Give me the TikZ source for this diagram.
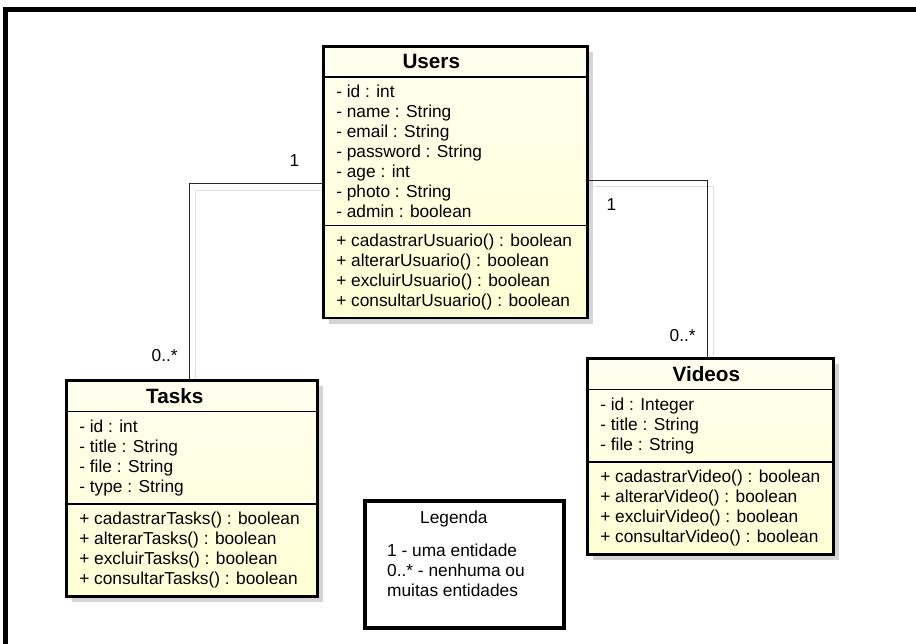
\documentclass[tikz,border=0pt]{standalone}
\usepackage{fontspec}
\setmainfont{Liberation Sans}
\usetikzlibrary{shapes.multipart,shadows,backgrounds}

\definecolor{classtop}{RGB}{255,255,240}
\definecolor{classbottom}{RGB}{255,255,212}
\newcommand{\classtitle}{\fontsize{20.7}{24}\selectfont\bfseries}
\newcommand{\umlfont}{\fontsize{17.3}{20}\selectfont}

\begin{document}
\begin{tikzpicture}[x=1pt,y=-1pt,
    umlclass/.style={rectangle split, rectangle split parts=3,
      rectangle split part align={center,left,left},
      rectangle split draw splits=false,
      draw=black, line width=2.6pt, align=left, anchor=north west,
      inner xsep=13pt, inner ysep=6.8pt,
      top color=classtop, bottom color=classbottom,
      drop shadow={shadow xshift=6pt, shadow yshift=-6pt, fill=black!17, opacity=1},
      font=\umlfont},
    classsplit/.style={line width=1.2pt},
    assoc/.style={draw=black!85, line width=1.3pt},
    assocshade/.style={draw=black!13, line width=1.3pt},
    mult/.style={font=\umlfont, inner sep=2pt},
    legendbox/.style={draw=black, line width=3.5pt, minimum width=199pt,
      minimum height=127pt, anchor=north west}]
  \useasboundingbox (0,0) rectangle (916,644);

  % outer frame
  \draw[line width=5pt] (5.5,644) -- (5.5,9.7) -- (916,9.7);

  % classes
  \node[umlclass, minimum width=264pt] (users) at (322,45)
    {\classtitle Users\hspace*{48pt}
     \nodepart{two}- id : int\\- name : String\\- email : String\\- password : String\\- age : int\\- photo : String\\- admin : boolean
     \nodepart{three}+ cadastrarUsuario() : boolean\\+ alterarUsuario() : boolean\\+ excluirUsuario() : boolean\\+ consultarUsuario() : boolean};
  \node[umlclass, minimum width=251pt] (tasks) at (65,379)
    {\classtitle Tasks\hspace*{34pt}
     \nodepart{two}- id : int\\- title : String\\- file : String\\- type : String
     \nodepart{three}+ cadastrarTasks() : boolean\\+ alterarTasks() : boolean\\+ excluirTasks() : boolean\\+ consultarTasks() : boolean};
  \node[umlclass, minimum width=246pt] (videos) at (586,357)
    {\classtitle Videos\hspace*{8pt}
     \nodepart{two}- id : Integer\\- title : String\\- file : String
     \nodepart{three}+ cadastrarVideo() : boolean\\+ alterarVideo() : boolean\\+ excluirVideo() : boolean\\+ consultarVideo() : boolean};

  \foreach \c in {users,tasks,videos}{
    \draw[classsplit] (\c.text split west) -- (\c.text split east);
    \draw[classsplit] (\c.two split west) -- (\c.two split east);
  }

  % associations
  \begin{scope}[on background layer]
    \path[assocshade] ([shift={(6,8)}]users.west) -| ([xshift=3.5pt]tasks.north);
    \path[assocshade] ([shift={(5,4)}]users.east) -| ([xshift=3pt]videos.north);
  \end{scope}
  \path[assoc] ([yshift=-1pt]users.west) -| ([xshift=-2.5pt]tasks.north)
    node[mult, pos=0.104, above=14pt] {1}
    node[mult, pos=0.94, left=9pt] {0..*};
  \path[assoc] ([yshift=2pt]users.east) -| ([xshift=-3pt]videos.north)
    node[mult, pos=0.096, below=16pt] {1}
    node[mult, pos=0.938, left=9pt] {0..*};

  % legend
  \node[legendbox] (legend) at (363,499) {};
  \node[font=\umlfont, align=left, anchor=north west, inner sep=0pt] (legendtext)
    at ([shift={(24,12)}]legend.north west)
    {\hspace*{33pt}Legenda\\[13pt]1 - uma entidade\\0..* - nenhuma ou\\muitas entidades};
\end{tikzpicture}
\end{document}
